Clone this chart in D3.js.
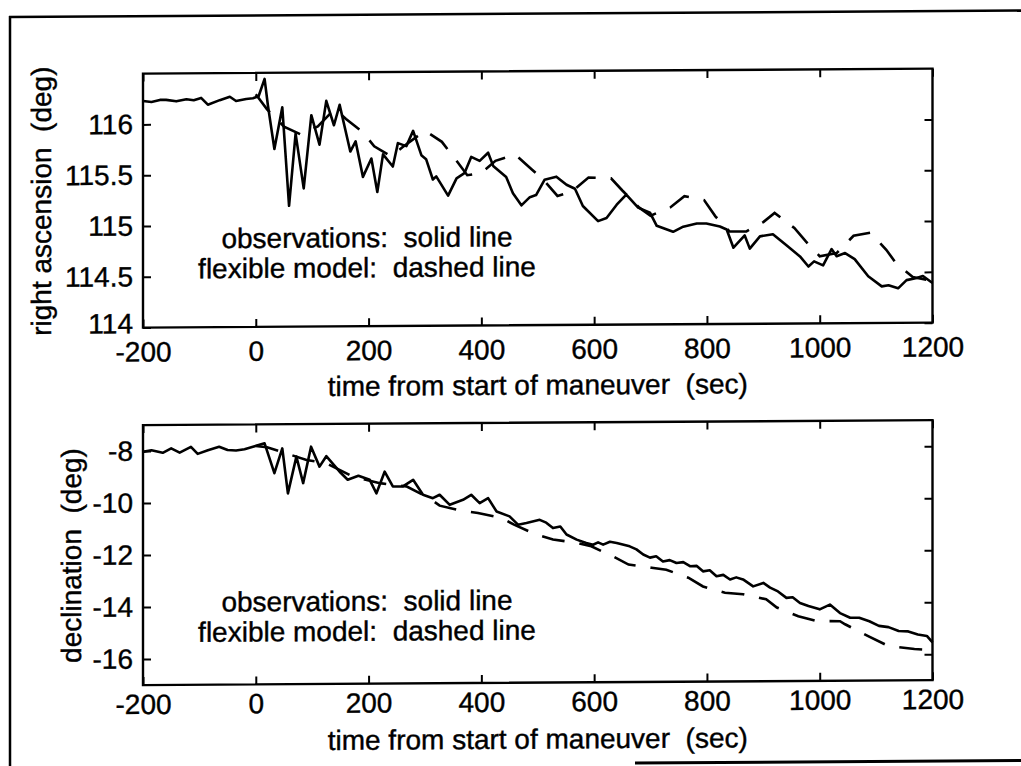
<!DOCTYPE html>
<html>
<head>
<meta charset="utf-8">
<script src="https://cdnjs.cloudflare.com/ajax/libs/d3/7.8.5/d3.min.js"></script>
<style>
    body { margin: 0; background: #fff; }
    svg text { font-family: "Liberation Sans", Arial, Helvetica, sans-serif; fill: #000; stroke: #000; stroke-width: 0.4px; white-space: pre; }
</style>
</head>
<body>
<div id="chart"></div>
<script>

// tick values
var timeTicks = [-200, 0, 200, 400, 600, 800, 1000, 1200];
var raTicks = [114, 114.5, 115, 115.5, 116];
var decTicks = [-16, -14, -12, -10, -8];

// right ascension, observed  [time (sec), deg]
var raObserved = [
    [-200, 116.23], [-185, 116.22], [-170, 116.24], [-159, 116.24], [-141, 116.225], [-123, 116.245],
    [-110, 116.235], [-97, 116.257], [-85, 116.19], [-64, 116.234], [-46, 116.267], [-35, 116.225],
    [-17, 116.244], [-5, 116.25], [5, 116.27], [15.6, 116.44], [21.5, 116.18], [33, 115.75],
    [47, 116.16], [59, 115.19], [70.6, 115.90], [85, 115.36], [98.5, 116.08], [113, 115.79],
    [125, 116.22], [138.6, 115.98], [148.7, 116.18], [167.6, 115.72], [177, 115.82], [190, 115.47],
    [205, 115.65], [215.5, 115.32], [225.6, 115.69], [243, 115.57], [252, 115.80], [267, 115.77],
    [279, 115.92], [293.6, 115.68], [302, 115.64], [314, 115.44], [320, 115.47], [341, 115.28],
    [356, 115.45], [370, 115.50], [382, 115.66], [397, 115.62], [412, 115.70], [421, 115.57],
    [444, 115.46], [456, 115.30], [471, 115.18], [486, 115.26], [497, 115.28], [512, 115.43],
    [533, 115.46], [551, 115.38], [566, 115.34], [580, 115.17], [607, 115.02], [622, 115.05],
    [640, 115.18], [657, 115.28], [678, 115.15], [699, 115.10], [711, 114.97], [740, 114.91],
    [758, 114.96], [782, 114.99], [799, 114.99], [823, 114.96], [835, 114.93], [847, 114.75],
    [867, 114.87], [876, 114.74], [894, 114.86], [917, 114.88], [941, 114.77], [965, 114.66],
    [980, 114.56], [990, 114.61], [1006, 114.57], [1021, 114.73], [1030, 114.66], [1045, 114.69],
    [1062, 114.63], [1086, 114.46], [1110, 114.36], [1122, 114.37], [1139, 114.34], [1154, 114.42],
    [1172, 114.44], [1183, 114.46], [1200, 114.39]
];

// right ascension, flexible model
var raModel = [
    [0, 116.29], [20, 116.14], [50, 115.97], [80, 115.89], [110, 115.97], [140, 116.14],
    [160, 116.04], [190, 115.91], [210, 115.77], [240, 115.67], [260, 115.76], [300, 115.92],
    [330, 115.81], [355, 115.63], [375, 115.48], [400, 115.50], [425, 115.62], [460, 115.68],
    [490, 115.53], [510, 115.43], [535, 115.27], [560, 115.31], [590, 115.45], [630, 115.44],
    [650, 115.32], [680, 115.15], [700, 115.07], [735, 115.15], [760, 115.26], [795, 115.22],
    [815, 115.06], [840, 114.91], [870, 114.91], [900, 115.00], [920, 115.09], [955, 114.94],
    [975, 114.81], [1000, 114.66], [1030, 114.69], [1060, 114.86], [1090, 114.89], [1118, 114.72],
    [1135, 114.59], [1165, 114.45], [1200, 114.41]
];

// declination, observed
var decObserved = [
    [-200, -8.03], [-185, -7.97], [-165, -8.07], [-150, -7.90], [-135, -8.07], [-115, -7.85],
    [-103, -8.12], [-85, -7.98], [-65, -7.85], [-50, -7.98], [-35, -8.00], [-20, -7.95],
    [-5, -7.86], [15.6, -7.73], [33, -8.88], [47, -7.93], [57, -9.66], [72, -8.25],
    [84, -9.27], [98, -7.87], [113, -8.64], [125, -8.24], [148.7, -8.84], [163, -9.15],
    [182, -9.0], [202, -9.16], [214, -9.68], [228.5, -8.85], [243, -9.42], [261, -9.42],
    [279, -9.17], [296.5, -9.75], [314, -9.88], [326, -9.75], [344, -10.14], [367.5, -9.95],
    [382, -9.76], [397, -10.08], [412, -9.89], [427, -10.41], [450, -10.60], [465, -10.92],
    [480, -10.86], [503.5, -10.74], [515, -10.85], [527, -11.06], [540, -11.0], [551, -11.31],
    [569, -11.51], [586, -11.64], [598, -11.71], [607, -11.62], [616, -11.71], [628, -11.6],
    [640, -11.65], [663, -11.78], [675, -11.9], [687, -12.10], [699, -12.22], [710, -12.17],
    [722, -12.37], [734, -12.32], [746, -12.43], [758, -12.4], [770, -12.56], [782, -12.55],
    [793, -12.76], [805, -12.72], [817, -12.95], [829, -12.9], [841, -13.08], [852, -13.0],
    [864, -13.08], [882, -13.35], [900, -13.22], [912, -13.4], [926, -13.55], [941, -13.80],
    [952, -13.78], [965, -14.00], [980, -14.12], [1000, -14.25], [1018, -14.07], [1036, -14.40],
    [1054, -14.58], [1070, -14.58], [1088, -14.72], [1105, -14.90], [1122, -14.95], [1140, -15.10],
    [1157, -15.12], [1174, -15.24], [1190, -15.30], [1200, -15.55]
];

// declination, flexible model
var decModel = [
    [0, -7.83], [20, -7.88], [90, -8.38], [125, -8.51], [172, -9.03], [220, -9.29],
    [267, -9.42], [308, -9.88], [326, -10.17], [367, -10.38], [394, -10.46], [436, -10.66],
    [458, -10.92], [497, -11.30], [527, -11.50], [569, -11.63], [595, -11.77], [633, -12.16],
    [661, -12.48], [702, -12.61], [728, -12.69], [767, -13.00], [793, -13.34], [832, -13.59],
    [864, -13.65], [905, -13.85], [924, -14.17], [962, -14.51], [995, -14.70], [1036, -14.71],
    [1045, -14.83], [1085, -15.28], [1122, -15.68], [1168, -15.80], [1200, -15.84]
];

var legendLines = ["observations:  solid line", "flexible model:  dashed line"];
var xTitle = "time from start of maneuver  (sec)";

var width = 1021, height = 766;
var fontSize = 28;

var svg = d3.select("#chart").append("svg")
    .attr("width", width)
    .attr("height", height);

// the scanned page is slightly skewed, so the whole drawing is too
var page = svg.append("g").attr("transform", "skewY(-0.36)");

// page border
page.append("line").attr("x1", 10).attr("y1", 16).attr("x2", 10).attr("y2", 775)
    .attr("stroke", "#000").attr("stroke-width", 2.5);
page.append("line").attr("x1", 9).attr("y1", 17).attr("x2", 1030).attr("y2", 17)
    .attr("stroke", "#000").attr("stroke-width", 2.5);
page.append("line").attr("x1", 635).attr("y1", 767).attr("x2", 1030).attr("y2", 767)
    .attr("stroke", "#000").attr("stroke-width", 3);

var x = d3.scaleLinear().domain([-200, 1200]).range([143, 932.5]);

function drawPanel(p) {
    var y = d3.scaleLinear().domain(p.domain).range([p.bottom, p.top]);
    var g = page.append("g");

    // axes, ticks pointing inwards
    var axes = [
        g.append("g").attr("transform", "translate(0," + p.bottom + ")")
            .call(d3.axisBottom(x).tickValues(timeTicks).tickFormat(function(d) { return String(d); })
                .tickSizeInner(-8).tickSizeOuter(0).tickPadding(p.xPad)),
        g.append("g").attr("transform", "translate(0," + p.top + ")")
            .call(d3.axisTop(x).tickValues(timeTicks).tickFormat("").tickSizeInner(-8).tickSizeOuter(0)),
        g.append("g").attr("class", "y_axis").attr("transform", "translate(" + x.range()[0] + ",0)")
            .call(d3.axisLeft(y).tickValues(p.ticks).tickFormat(function(d) { return String(d); })
                .tickSizeInner(-8).tickSizeOuter(0).tickPadding(10)),
        g.append("g").attr("transform", "translate(" + x.range()[1] + ",0)")
            .call(d3.axisRight(y).tickValues(p.ticks).tickFormat("").tickSizeInner(-8).tickSizeOuter(0))
    ];
    axes.forEach(function(a) {
        a.select(".domain").remove();
        a.selectAll(".tick line").attr("stroke", "#000").attr("stroke-width", 2);
        a.attr("font-size", fontSize).attr("font-family", null);
    });

    // lowest y label sits a little higher, just above the -200
    g.select(".y_axis").selectAll(".tick text")
        .filter(function(d) { return d === p.domain[0]; })
        .attr("dy", "0.18em");

    // box
    g.append("rect")
        .attr("x", x.range()[0]).attr("y", p.top)
        .attr("width", x.range()[1] - x.range()[0])
        .attr("height", p.bottom - p.top)
        .attr("fill", "none").attr("stroke", "#000").attr("stroke-width", 2.4);

    var line = d3.line()
        .x(function(d) { return x(d[0]); })
        .y(function(d) { return y(d[1]); });

    g.append("path").datum(p.observed)
        .attr("d", line)
        .attr("fill", "none").attr("stroke", "#000")
        .attr("stroke-width", 2.6).attr("stroke-linejoin", "round");

    g.append("path").datum(p.model)
        .attr("d", line)
        .attr("fill", "none").attr("stroke", "#000")
        .attr("stroke-width", 2.6).attr("stroke-dasharray", "23,15");

    // legend text
    legendLines.forEach(function(t, i) {
        g.append("text")
            .attr("x", 367).attr("y", p.legendY + i * 30)
            .attr("text-anchor", "middle")
            .style("font-size", fontSize + "px")
            .text(t);
    });

    // axis titles
    g.append("text")
        .attr("transform", "rotate(-90)")
        .attr("x", -(p.top + p.bottom) / 2)
        .attr("y", p.labelX)
        .attr("text-anchor", "middle")
        .style("font-size", fontSize + "px")
        .text(p.label);

    g.append("text")
        .attr("x", (x.range()[0] + x.range()[1]) / 2)
        .attr("y", p.titleY)
        .attr("text-anchor", "middle")
        .style("font-size", fontSize + "px")
        .text(xTitle);
}

drawPanel({
    domain: [114, 116.5], ticks: raTicks, top: 74.5, bottom: 328.5, xPad: 14,
    observed: raObserved, model: raModel,
    legendY: 249.5, label: "right ascension  (deg)", labelX: 51, titleY: 398
});

drawPanel({
    domain: [-17, -7], ticks: decTicks, top: 426, bottom: 686, xPad: 9,
    observed: decObserved, model: decModel,
    legendY: 613, label: "declination  (deg)", labelX: 81, titleY: 752
});

</script>
</body>
</html>
